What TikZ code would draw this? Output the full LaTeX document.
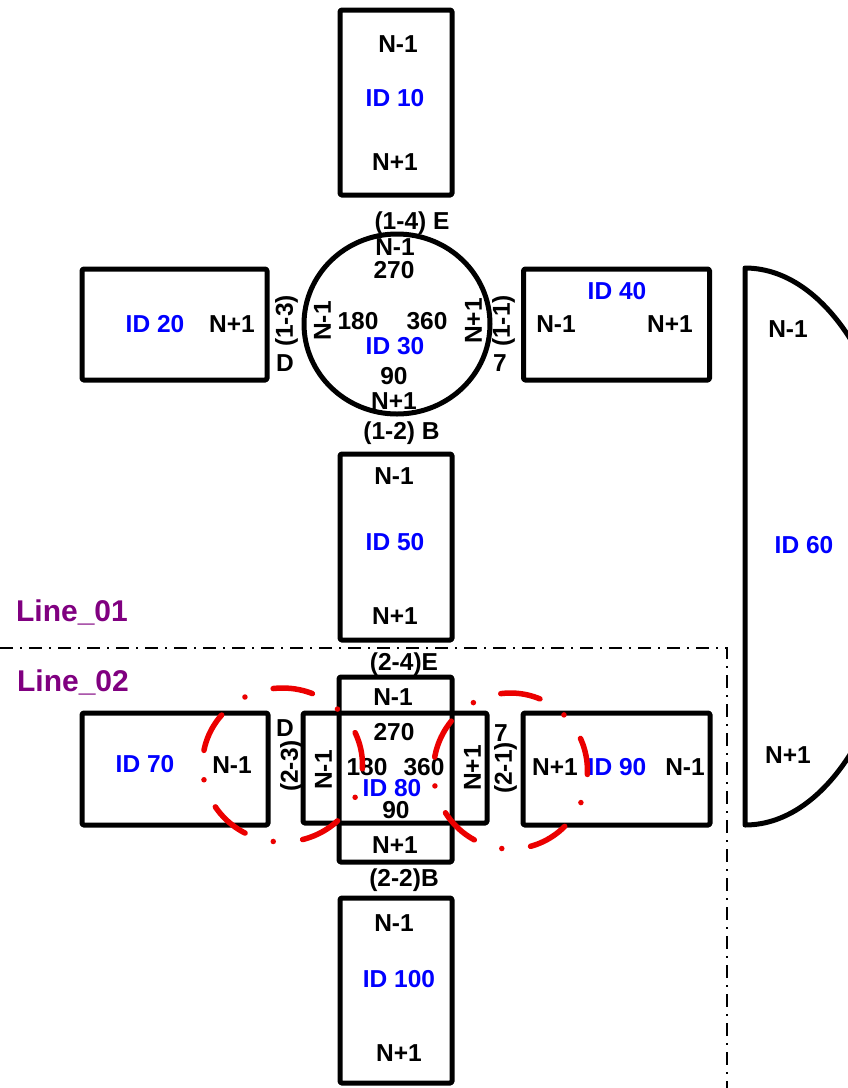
\documentclass[tikz,border=0pt]{standalone}
\usepackage{fontspec}
\setmainfont{Liberation Sans}
\usetikzlibrary{shapes.geometric}
\definecolor{idblue}{RGB}{0,0,255}
\definecolor{linepurple}{RGB}{128,0,128}
\definecolor{hlred}{RGB}{235,0,0}
\begin{document}
\begin{tikzpicture}[x=1pt,y=-1pt,
  box/.style={draw, line width=5pt, rounded corners=1.5pt, inner sep=0pt, line join=round},
  lbl/.style={font=\fontsize{24.5}{24.5}\selectfont\bfseries, inner sep=0pt, text height=17.5pt, text depth=0pt},
  idl/.style={lbl, text=idblue},
  vlbl/.style={lbl, rotate=90},
  linelbl/.style={font=\fontsize{30}{30}\selectfont\bfseries, text=linepurple, inner sep=0pt, text height=21.5pt, text depth=0pt},
  sep/.style={line width=1.3pt, dash pattern=on 13pt off 7pt on 2pt off 7pt},
  hl/.style={draw=hlred, line width=5.5pt, line cap=round}
]
\useasboundingbox (0,0) rectangle (848,1088);
\begin{scope}
\clip (0,0) rectangle (848,1088);

% ID 10
\node[box, minimum width=112pt, minimum height=185pt] (id10) at (396,102.5) {};
\node[lbl] (id10a) at (398,44) {N-1};
\node[idl] (id10b) at (395,98) {ID 10};
\node[lbl] (id10c) at (395,162) {N+1};

% ID 20
\node[box, minimum width=185pt, minimum height=111pt] (id20) at (174.5,324.5) {};
\node[idl] (id20b) at (155,324) {ID 20};
\node[lbl] (id20a) at (232,324) {N+1};

% ID 30 circle
\node[ellipse, draw, line width=5pt, inner sep=0pt, minimum width=186pt, minimum height=180pt] (id30) at (397,324) {};
\node[lbl] (c14) at (412,221) {(1-4) E};
\node[lbl] (c30a) at (395,247) {N-1};
\node[lbl] (c30b) at (394,270) {270};
\node[lbl] (c30c) at (358,321) {180};
\node[lbl] (c30d) at (427,321) {360};
\node[idl] (c30e) at (395,346) {ID 30};
\node[lbl] (c30f) at (394,376) {90};
\node[lbl] (c30g) at (394,401) {N+1};
\node[lbl] (c12) at (401.5,431) {(1-2) B};
\node[vlbl] (c30h) at (322,321) {N-1};
\node[vlbl] (c30i) at (473,321) {N+1};
\node[vlbl] (c13) at (284,321) {(1-3)};
\node[lbl] (c13d) at (285,363) {D};
\node[vlbl] (c11) at (501,321) {(1-1)};
\node[lbl] (c11s) at (500,363) {7};

% ID 40
\node[box, minimum width=186pt, minimum height=111pt] (id40) at (616.5,324.5) {};
\node[idl] (id40b) at (617,291) {ID 40};
\node[lbl] (id40a) at (556,324) {N-1};
\node[lbl] (id40c) at (670,324) {N+1};

% ID 50
\node[box, minimum width=112pt, minimum height=186pt] (id50) at (396,547) {};
\node[lbl] (id50a) at (394,476) {N-1};
\node[idl] (id50b) at (395,542) {ID 50};
\node[lbl] (id50c) at (395,616) {N+1};

% ID 60
\draw[line width=5pt, line join=round] (745,268) -- (745,825)
  arc[start angle=-90, end angle=90, x radius=158pt, y radius=278.5pt] -- cycle;
\node[lbl] (id60a) at (788,329) {N-1};
\node[idl] (id60b) at (804,545) {ID 60};
\node[lbl] (id60c) at (788,755) {N+1};

% separator
\coordinate (s1) at (0,648);
\coordinate (s2) at (727,648);
\coordinate (s3) at (727,1088);
\draw[sep] (s1) -- (s2) -- (s3);
\node[linelbl] (line1) at (72,611) {Line\_01};
\node[linelbl] (line2) at (73,681) {Line\_02};

% ID 80
\node[box, minimum width=113pt, minimum height=185pt] (id80v) at (395.5,769.5) {};
\node[box, minimum width=184pt, minimum height=110pt] (id80h) at (395,768) {};
\node[lbl] (c24) at (404,662) {(2-4)E};
\node[lbl] (c80a) at (393,697) {N-1};
\node[lbl] (c80b) at (394,732) {270};
\node[lbl] (c80c) at (367,767) {180};
\node[lbl] (c80d) at (424,767) {360};
\node[idl] (c80e) at (392,788) {ID 80};
\node[lbl] (c80f) at (396,810) {90};
\node[lbl] (c80g) at (395,845) {N+1};
\node[lbl] (c22) at (404,878) {(2-2)B};
\node[vlbl] (c80h) at (323,770) {N-1};
\node[vlbl] (c80i) at (472,768) {N+1};
\node[lbl] (c23d) at (285,728) {D};
\node[vlbl] (c23) at (289,766) {(2-3)};
\node[lbl] (c21s) at (501,733) {7};
\node[vlbl] (c21) at (503,768) {(2-1)};

% ID 70
\node[box, minimum width=186pt, minimum height=112pt] (id70) at (175,769) {};
\node[idl] (id70b) at (145,764) {ID 70};
\node[lbl] (id70a) at (232,765) {N-1};

% ID 90
\node[box, minimum width=187pt, minimum height=112pt] (id90) at (616.5,769) {};
\node[lbl] (id90a) at (555,767) {N+1};
\node[idl] (id90b) at (617,767) {ID 90};
\node[lbl] (id90c) at (685,767) {N-1};

% ID 100
\node[box, minimum width=112pt, minimum height=185pt] (id100) at (396,990.5) {};
\node[lbl] (id100a) at (394,923) {N-1};
\node[idl] (id100b) at (399,979) {ID 100};
\node[lbl] (id100c) at (399,1053) {N+1};

% highlight ellipses
\coordinate (hlL) at (282.5,765);
\coordinate (hlR) at (510.5,771);
\draw[hl, dash pattern=on 40pt off 29.6pt on 0pt off 29.6pt, dash phase=6.5pt] (hlL) ellipse[x radius=80pt, y radius=77pt];
\draw[hl, dash pattern=on 40pt off 29pt on 0pt off 29pt, dash phase=6.5pt] (hlR) ellipse[x radius=77pt, y radius=78pt];
\end{scope}
\end{tikzpicture}
\end{document}
